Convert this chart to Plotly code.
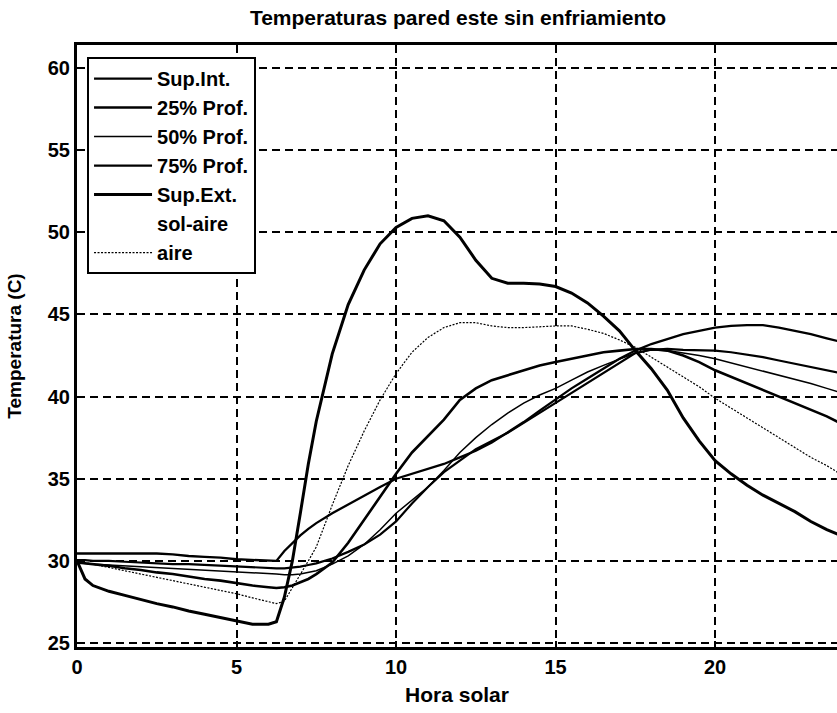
import plotly.graph_objects as go

hours = [0, 0.25, 0.5, 1, 1.5, 2, 2.5, 3, 3.5, 4, 4.5, 5, 5.5, 6, 6.25, 6.5, 6.75, 7, 7.25, 7.5,
         8, 8.5, 9, 9.5, 10, 10.5, 11, 11.5, 12, 12.5, 13, 13.5, 14, 14.5, 15, 15.5, 16, 16.5,
         17, 17.5, 18, 18.5, 19, 19.5, 20, 20.5, 21, 21.5, 22, 22.5, 23, 23.5, 24]

sup_int = [30.45, 30.45, 30.45, 30.45, 30.45, 30.45, 30.45, 30.4, 30.3, 30.25, 30.2, 30.1, 30.05, 30.0,
           30.0, 30.6, 31.1, 31.55, 31.95, 32.3, 32.9, 33.45, 34.0, 34.5, 35.0, 35.3, 35.6, 35.9,
           36.3, 36.7, 37.2, 37.8, 38.45, 39.15, 39.85, 40.5, 41.1, 41.7, 42.3, 42.8, 43.2, 43.5,
           43.8, 44.0, 44.2, 44.3, 44.35, 44.35, 44.2, 44.0, 43.8, 43.55, 43.3]

prof25 = [29.9, 29.85, 29.8, 29.7, 29.55, 29.45, 29.3, 29.2, 29.05, 28.9, 28.8, 28.65, 28.5, 28.4,
          28.35, 28.4, 28.5, 28.7, 28.9, 29.2, 29.9, 31.1, 32.5, 33.9, 35.3, 36.6, 37.6, 38.6,
          39.8, 40.5, 41.0, 41.3, 41.6, 41.9, 42.1, 42.3, 42.5, 42.7, 42.8, 42.9, 42.9, 42.8,
          42.5, 42.1, 41.6, 41.2, 40.8, 40.4, 40.0, 39.6, 39.2, 38.8, 38.3]

prof50 = [29.9, 29.85, 29.8, 29.75, 29.7, 29.65, 29.6, 29.55, 29.5, 29.45, 29.4, 29.35, 29.3, 29.25,
          29.2, 29.15, 29.15, 29.2, 29.3, 29.4, 29.8, 30.3, 31.0, 31.9, 32.9, 33.7, 34.5, 35.5,
          36.6, 37.5, 38.3, 39.0, 39.6, 40.1, 40.5, 41.0, 41.5, 41.9, 42.3, 42.65, 42.85, 42.8,
          42.65, 42.5, 42.3, 42.05, 41.8, 41.55, 41.3, 41.05, 40.8, 40.5, 40.2]

prof75 = [30.05, 30.05, 30.0, 30.0, 29.95, 29.9, 29.85, 29.8, 29.8, 29.75, 29.7, 29.65, 29.6, 29.55,
          29.55, 29.55, 29.6, 29.65, 29.75, 29.85, 30.15, 30.55, 31.0, 31.6, 32.4, 33.5, 34.5, 35.4,
          36.1, 36.8, 37.3, 37.8, 38.4, 39.0, 39.6, 40.25, 40.85, 41.45, 42.05, 42.65, 42.85, 42.9,
          42.85, 42.83, 42.8, 42.7, 42.55, 42.4, 42.2, 42.0, 41.8, 41.6, 41.4]

sup_ext = [30.0, 28.9, 28.5, 28.15, 27.9, 27.65, 27.4, 27.2, 26.95, 26.75, 26.55, 26.35, 26.15, 26.15,
           26.3, 27.8, 30.0, 32.9, 35.9, 38.5, 42.6, 45.6, 47.7, 49.3, 50.3, 50.85, 51.0, 50.7,
           49.7, 48.3, 47.2, 46.9, 46.9, 46.85, 46.7, 46.3, 45.7, 44.9, 44.0, 42.8, 41.7, 40.4,
           38.7, 37.3, 36.1, 35.3, 34.6, 34.0, 33.5, 33.0, 32.4, 31.9, 31.5]

aire = [29.95, 29.9, 29.8, 29.6, 29.4, 29.2, 29.0, 28.8, 28.6, 28.4, 28.2, 28.0, 27.75, 27.5,
        27.4, 27.55, 28.35, 29.2, 30.0, 30.85, 33.4, 35.8, 37.9, 39.8, 41.4, 42.7, 43.6, 44.2,
        44.5, 44.5, 44.3, 44.2, 44.2, 44.25, 44.3, 44.3, 44.1, 43.85, 43.45, 43.0, 42.4, 41.8,
        41.2, 40.6, 39.9, 39.3, 38.7, 38.1, 37.5, 36.9, 36.3, 35.8, 35.2]

x_ticks = [0, 5, 10, 15, 20]
y_ticks = [25, 30, 35, 40, 45, 50, 55, 60]

FONT = "Liberation Sans, Arial, sans-serif"

series = [
    ("Sup.Int.", sup_int, 2.3, "solid"),
    ("25% Prof.", prof25, 2.6, "solid"),
    ("50% Prof.", prof50, 1.5, "solid"),
    ("75% Prof.", prof75, 2.2, "solid"),
    ("Sup.Ext.", sup_ext, 3.0, "solid"),
]

fig = go.Figure()
for name, vals, w, dash in series:
    fig.add_trace(go.Scatter(x=hours, y=vals, mode="lines", name=name,
                             line=dict(color="black", width=w, dash=dash)))
# sol-aire: legend entry without a visible line sample
fig.add_trace(go.Scatter(x=[None], y=[None], mode="lines", name="sol-aire",
                         line=dict(color="rgba(0,0,0,0)", width=1)))
fig.add_trace(go.Scatter(x=hours, y=aire, mode="lines", name="aire",
                         line=dict(color="black", width=1.2, dash="2px,1.5px")))

fig.update_layout(
    width=837, height=713,
    margin=dict(l=77, r=0, t=45, b=66),
    paper_bgcolor="white", plot_bgcolor="white",
    font=dict(family=FONT, color="black"),
    title=dict(text="<b>Temperaturas pared este sin enfriamiento</b>",
               x=458 / 837, xanchor="center", y=1 - 18 / 713, yanchor="middle",
               font=dict(size=21, family=FONT, color="black")),
    legend=dict(x=0.0132, y=0.98, xanchor="left", yanchor="top",
                bgcolor="white", bordercolor="black", borderwidth=2,
                font=dict(size=20, family=FONT, color="black", weight="bold"),
                itemwidth=58, tracegroupgap=0),
    showlegend=True,
)

fig.update_xaxes(
    range=[0, 23.82], tickvals=x_ticks, ticktext=[f"<b>{v}</b>" for v in x_ticks],
    tickfont=dict(size=20, family=FONT, color="black"),
    showline=True, linecolor="black", linewidth=3, mirror="ticks",
    ticks="inside", ticklen=6, tickwidth=2, tickcolor="black",
    showgrid=True, gridcolor="black", gridwidth=2.4, griddash="8px,5px",
    zeroline=False,
    title=dict(text="<b>Hora solar</b>", font=dict(size=21, family=FONT, color="black"), standoff=11),
)
fig.update_yaxes(
    range=[24.76, 61.4], tickvals=y_ticks, ticktext=[f"<b>{v}</b>" for v in y_ticks],
    tickfont=dict(size=20, family=FONT, color="black"),
    showline=True, linecolor="black", linewidth=3, mirror=False,
    ticks="inside", ticklen=6, tickwidth=2, tickcolor="black",
    showgrid=True, gridcolor="black", gridwidth=2.4, griddash="8px,5px",
    zeroline=False,
    title=dict(text="<b>Temperatura (C)</b>", font=dict(size=19, family=FONT, color="black"), standoff=22),
)

fig.write_html("out.html")
